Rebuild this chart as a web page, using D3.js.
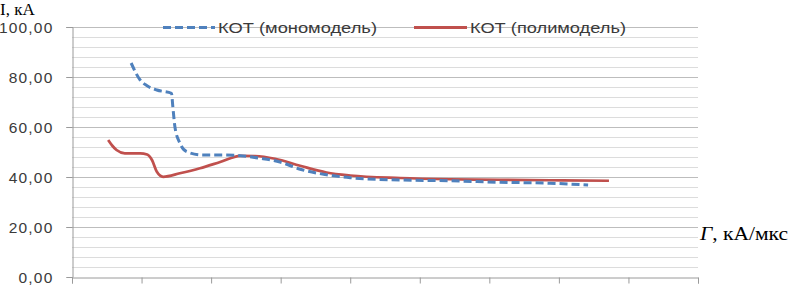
<!DOCTYPE html>
<html lang="ru">
<head>
<meta charset="UTF-8">
<title>КОТ</title>
<script src="https://d3js.org/d3.v7.min.js"></script>
<style>
  body { margin: 0; background: #fff; }
  svg { display: block; }
</style>
</head>
<body>
<svg id="chart" width="789" height="286"></svg>
<script>
// series: x in category-axis units (0..9), y in kA
const monoX = [0.85, 0.98, 1.08, 1.22, 1.43, 1.45, 1.48, 1.55, 1.65, 1.88, 2.17, 2.42, 2.70, 2.99, 3.28, 3.64, 4.00, 4.72, 5.43, 6.15, 6.87, 7.42];
const monoY = [85.6, 78.8, 76.5, 74.8, 73.5, 68.0, 60.0, 53.6, 50.1, 48.8, 48.8, 48.5, 47.5, 46.0, 43.1, 41.0, 39.7, 38.8, 38.5, 37.9, 37.5, 36.8];
const polyX = [0.52, 0.58, 0.64, 0.76, 0.98, 1.08, 1.15, 1.22, 1.31, 1.55, 1.84, 2.13, 2.42, 2.63, 2.92, 3.28, 3.66, 4.00, 4.72, 5.43, 6.15, 6.87, 7.72];
const polyY = [54.8, 52.5, 50.8, 49.5, 49.5, 49.0, 46.8, 42.1, 40.1, 41.5, 43.5, 46.0, 48.5, 48.4, 47.3, 44.5, 41.8, 40.6, 39.6, 39.1, 38.9, 38.7, 38.5];
const seriesNames = ["КОТ (мономодель)", "КОТ (полимодель)"];
const yTicks = [0, 20, 40, 60, 80, 100];
const xTicks = [0, 1, 2, 3, 4, 5, 6, 7, 8, 9];

const plotL = 72, plotR = 698, plotT = 27, plotB = 277;
const svg = d3.select("#chart");

const x = d3.scaleLinear().domain([0, 9]).range([plotL, plotR]);
const y = d3.scaleLinear().domain([0, 100]).range([plotB, plotT]);

// minor gridlines every 4 kA
const minor = d3.range(0, 101, 4).filter(v => v % 20 !== 0);
svg.append("g").selectAll("line").data(minor).join("line")
    .attr("x1", plotL).attr("x2", plotR)
    .attr("y1", d => y(d) + 0.5).attr("y2", d => y(d) + 0.5)
    .attr("stroke", "#dcdcdc").attr("stroke-width", 1);

svg.append("g").selectAll("line").data(yTicks.filter(v => v > 0)).join("line")
    .attr("x1", plotL - 6).attr("x2", plotR)
    .attr("y1", d => y(d) + 0.5).attr("y2", d => y(d) + 0.5)
    .attr("stroke", "#bdbdbd").attr("stroke-width", 1);

// y axis
const yAxis = svg.append("g").attr("transform", `translate(${plotL + 0.5},0)`)
    .call(d3.axisLeft(y).tickValues(yTicks).tickSize(6).tickFormat(d => d3.format(".2f")(d).replace(".", ",")));
yAxis.select(".domain").attr("stroke", "#9a9a9a");
yAxis.selectAll(".tick line").attr("stroke", "#9a9a9a");
yAxis.selectAll(".tick text")
    .attr("x", -19).attr("dy", "0.36em")
    .attr("fill", "#3a3a3a")
    .style("font-family", "'Liberation Sans', Arial, sans-serif")
    .style("font-size", "15.5px")
    .style("letter-spacing", "1.2px");

// x axis, ticks only
const xAxis = svg.append("g").attr("transform", `translate(0,${plotB + 0.5})`)
    .call(d3.axisBottom(x).tickValues(xTicks).tickSize(6).tickFormat(""));
xAxis.select(".domain").attr("stroke", "#9a9a9a");
xAxis.selectAll(".tick line").attr("stroke", "#9a9a9a");

const line = d3.line().x(d => x(d[0])).y(d => y(d[1])).curve(d3.curveMonotoneX);

svg.append("path")
    .datum(d3.zip(polyX, polyY))
    .attr("d", line)
    .attr("fill", "none")
    .attr("stroke", "#c0504d")
    .attr("stroke-width", 2.75)
    .attr("stroke-linejoin", "round");

svg.append("path")
    .datum(d3.zip(monoX, monoY))
    .attr("d", line)
    .attr("fill", "none")
    .attr("stroke", "#4f81bd")
    .attr("stroke-width", 3)
    .attr("stroke-dasharray", "8,4");

// legend
const legend = [
  { name: seriesNames[0], color: "#4f81bd", dash: "8,4", x1: 163, x2: 215, tx: 218, tw: 159 },
  { name: seriesNames[1], color: "#c0504d", dash: null, x1: 414, x2: 467, tx: 470, tw: 156 }
];
const lg = svg.append("g").selectAll("g").data(legend).join("g");
lg.append("line")
    .attr("x1", d => d.x1).attr("x2", d => d.x2)
    .attr("y1", plotT + 0.5).attr("y2", plotT + 0.5)
    .attr("stroke", d => d.color).attr("stroke-width", 3)
    .attr("stroke-dasharray", d => d.dash);
lg.append("text")
    .attr("x", d => d.tx).attr("y", plotT + 6)
    .attr("textLength", d => d.tw).attr("lengthAdjust", "spacingAndGlyphs")
    .attr("fill", "#3a3a3a")
    .style("font-family", "'Liberation Sans', Arial, sans-serif")
    .style("font-size", "15px")
    .text(d => d.name);

// axis titles
svg.append("text")
    .attr("x", 0).attr("y", 15)
    .style("font-family", "'Liberation Serif', 'Times New Roman', serif")
    .style("font-size", "17px")
    .text("I, кА");

const gt = svg.append("text")
    .attr("x", 700).attr("y", 240)
    .attr("textLength", 88).attr("lengthAdjust", "spacingAndGlyphs")
    .style("font-family", "'Liberation Serif', 'Times New Roman', serif")
    .style("font-size", "19px");
gt.append("tspan").style("font-style", "italic").text("Г");
gt.append("tspan").text(", кА/мкс");
</script>
</body>
</html>
